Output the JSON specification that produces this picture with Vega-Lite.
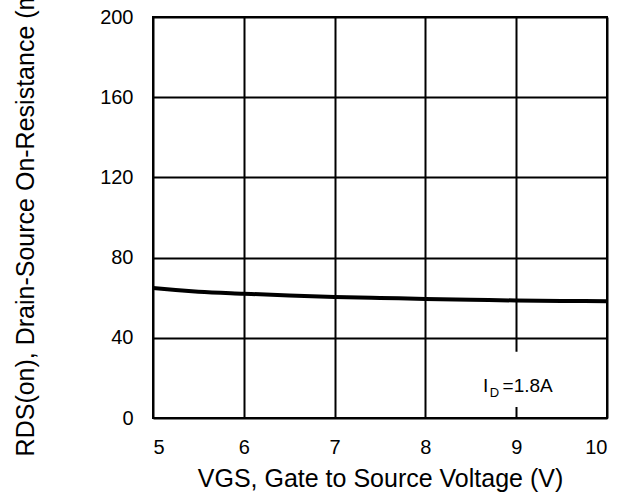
{
  "$schema": "https://vega.github.io/schema/vega-lite/v6.json",
  "width": 454,
  "height": 401,
  "autosize": {"type": "none"},
  "padding": {"left": 153, "top": 17, "right": 19, "bottom": 81},
  "background": "white",
  "config": {
    "view": {"stroke": "#000000", "strokeWidth": 2},
    "font": "Liberation Sans",
    "axis": {
      "grid": true, "gridColor": "#000000", "gridWidth": 2, "gridOpacity": 1,
      "domain": false, "ticks": false, "tickSize": 0,
      "labelFont": "Liberation Sans", "labelFontSize": 20, "labelFontWeight": "normal", "labelColor": "#000000",
      "titleFont": "Liberation Sans", "titleFontSize": 25, "titleFontWeight": "normal", "titleColor": "#000000"
    }
  },
  "datasets": {
    "curve": [
      {"vgs": 5.0, "rds": 64.8},
      {"vgs": 5.25, "rds": 63.8},
      {"vgs": 5.5, "rds": 63.0},
      {"vgs": 6.0, "rds": 62.0},
      {"vgs": 6.5, "rds": 61.1},
      {"vgs": 7.0, "rds": 60.4},
      {"vgs": 7.5, "rds": 59.9},
      {"vgs": 8.0, "rds": 59.4},
      {"vgs": 8.5, "rds": 59.0},
      {"vgs": 9.0, "rds": 58.6},
      {"vgs": 9.5, "rds": 58.4},
      {"vgs": 10.0, "rds": 58.2}
    ],
    "box": [{"x1": 8.6, "x2": 9.5, "y1": 5.5, "y2": 33}],
    "notes": [
      {"part": "I", "x": 8.634, "y": 13.0},
      {"part": "D", "x": 8.71, "y": 13.0},
      {"part": "=1.8A", "x": 8.85, "y": 13.0}
    ]
  },
  "layer": [
    {
      "data": {"name": "box"},
      "mark": {"type": "rect", "fill": "white", "stroke": null},
      "encoding": {
        "x": {"field": "x1", "type": "quantitative", "scale": {"domain": [5, 10], "nice": false},
              "axis": {"values": [5, 6, 7, 8, 9, 10], "format": "d", "labelPadding": 19, "titlePadding": 9, "title": "VGS, Gate to Source Voltage (V)"}},
        "x2": {"field": "x2"},
        "y": {"field": "y1", "type": "quantitative", "scale": {"domain": [0, 200], "nice": false},
              "axis": {"values": [0, 40, 80, 120, 160, 200], "format": "d", "labelPadding": 20, "titlePadding": 61, "titleY": 192, "title": "RDS(on), Drain-Source On-Resistance (mΩ)"}},
        "y2": {"field": "y2"}
      }
    },
    {
      "data": {"name": "curve"},
      "mark": {"type": "line", "color": "#000000", "strokeWidth": 4, "interpolate": "monotone"},
      "encoding": {
        "x": {"field": "vgs", "type": "quantitative"},
        "y": {"field": "rds", "type": "quantitative"}
      }
    },
    {
      "data": {"name": "notes"},
      "transform": [{"filter": "datum.part !== 'D'"}],
      "mark": {"type": "text", "align": "left", "baseline": "alphabetic", "fontSize": 19, "font": "Liberation Sans", "color": "#000000"},
      "encoding": {
        "x": {"field": "x", "type": "quantitative"},
        "y": {"field": "y", "type": "quantitative"},
        "text": {"field": "part"}
      }
    },
    {
      "data": {"name": "notes"},
      "transform": [{"filter": "datum.part === 'D'"}],
      "mark": {"type": "text", "align": "left", "baseline": "alphabetic", "fontSize": 13, "dy": 5, "font": "Liberation Sans", "color": "#000000"},
      "encoding": {
        "x": {"field": "x", "type": "quantitative"},
        "y": {"field": "y", "type": "quantitative"},
        "text": {"field": "part"}
      }
    }
  ]
}
